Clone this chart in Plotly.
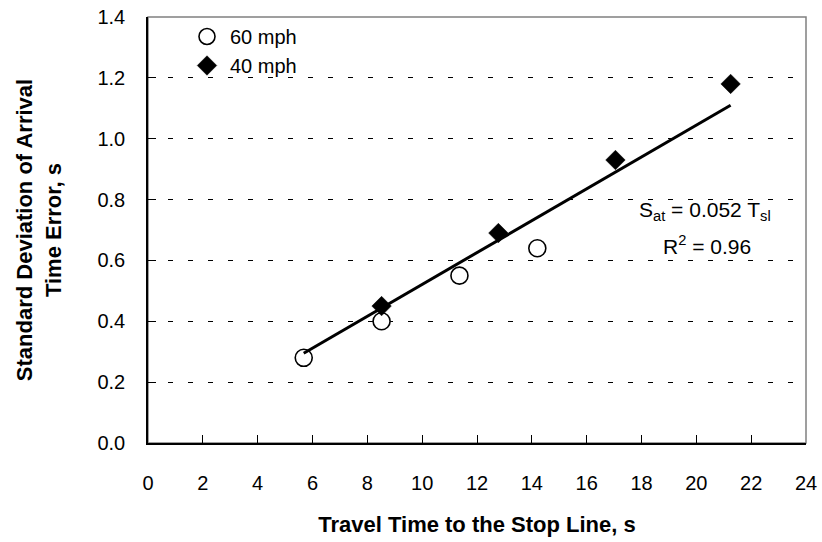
import plotly.graph_objects as go

# Data
x_60mph = [5.68, 8.52, 11.36, 14.2]
y_60mph = [0.28, 0.40, 0.55, 0.64]
x_40mph = [8.52, 12.78, 17.05, 21.25]
y_40mph = [0.45, 0.69, 0.93, 1.18]
trend_x = [5.68, 21.25]
trend_y = [0.295, 1.11]
x_ticks = list(range(0, 25, 2))
y_ticks = [0.0, 0.2, 0.4, 0.6, 0.8, 1.0, 1.2, 1.4]

FONT = "Arial, Liberation Sans, sans-serif"

fig = go.Figure()
fig.add_trace(go.Scatter(
    x=x_60mph, y=y_60mph, mode="markers", name="60 mph", legendgroup="a",
    marker=dict(symbol="circle", size=17, color="white",
                line=dict(color="black", width=1.6)),
))
fig.add_trace(go.Scatter(
    x=x_40mph, y=y_40mph, mode="markers", name="40 mph", legendgroup="b",
    marker=dict(symbol="diamond", size=15, color="black",
                line=dict(color="black", width=0.5)),
))
fig.add_trace(go.Scatter(
    x=trend_x, y=trend_y, mode="lines", showlegend=False,
    line=dict(color="black", width=3),
))

L, R, T, B = 148, 16, 17, 99
W, H = 822, 542
PW = W - L - R

fig.update_layout(
    width=W, height=H,
    margin=dict(l=L, r=R, t=T, b=B, autoexpand=False),
    paper_bgcolor="white", plot_bgcolor="white",
    font=dict(family=FONT, size=20, color="black"),
    showlegend=True,
    legend=dict(
        x=36 / PW, y=1.0,
        xanchor="left", yanchor="top",
        bgcolor="rgba(0,0,0,0)", borderwidth=0,
        font=dict(family=FONT, size=20, color="black"),
        tracegroupgap=0, traceorder="grouped", itemwidth=36,
    ),
    xaxis=dict(
        range=[0, 24], tickvals=x_ticks, ticks="inside", ticklen=8,
        tickwidth=1, tickcolor="black", showline=True, linecolor="black",
        linewidth=1.5, showgrid=False, zeroline=False,
        tickfont=dict(family=FONT, size=20, color="black"),
        ticklabelstandoff=21, ticklabeloverflow="allow",
        title=dict(text="<b>Travel Time to the Stop Line, s</b>",
                   font=dict(family=FONT, size=22, color="black"), standoff=24),
    ),
    yaxis=dict(
        range=[0, 1.4], tickvals=y_ticks, tickformat=".1f", ticks="inside",
        ticklen=8, tickwidth=1, tickcolor="black", showline=True,
        linecolor="black", linewidth=1.5, zeroline=False,
        showgrid=True, gridcolor="black", gridwidth=1, griddash="5px,15px",
        tickfont=dict(family=FONT, size=20, color="black"),
        ticklabelstandoff=17, ticklabeloverflow="allow",
        title=dict(text="<b>Standard Deviation of Arrival<br>Time Error, s</b>",
                   font=dict(family=FONT, size=22, color="black"), standoff=30),
    ),
    shapes=[dict(type="rect", xref="paper", yref="paper", x0=0, x1=1, y0=0, y1=1,
                 line=dict(color="#808080", width=1.5), layer="below")],
    annotations=[
        dict(x=20.3, y=0.762, xref="x", yref="y", showarrow=False,
             text="S<sub>at</sub> = 0.052 T<sub>sl</sub>",
             font=dict(family=FONT, size=21, color="black")),
        dict(x=20.4, y=0.65, xref="x", yref="y", showarrow=False,
             text="R<sup>2</sup> = 0.96",
             font=dict(family=FONT, size=21, color="black")),
    ],
)

fig.write_html("out.html", config={"displayModeBar": False},
               post_script="document.body.style.margin='0';")
